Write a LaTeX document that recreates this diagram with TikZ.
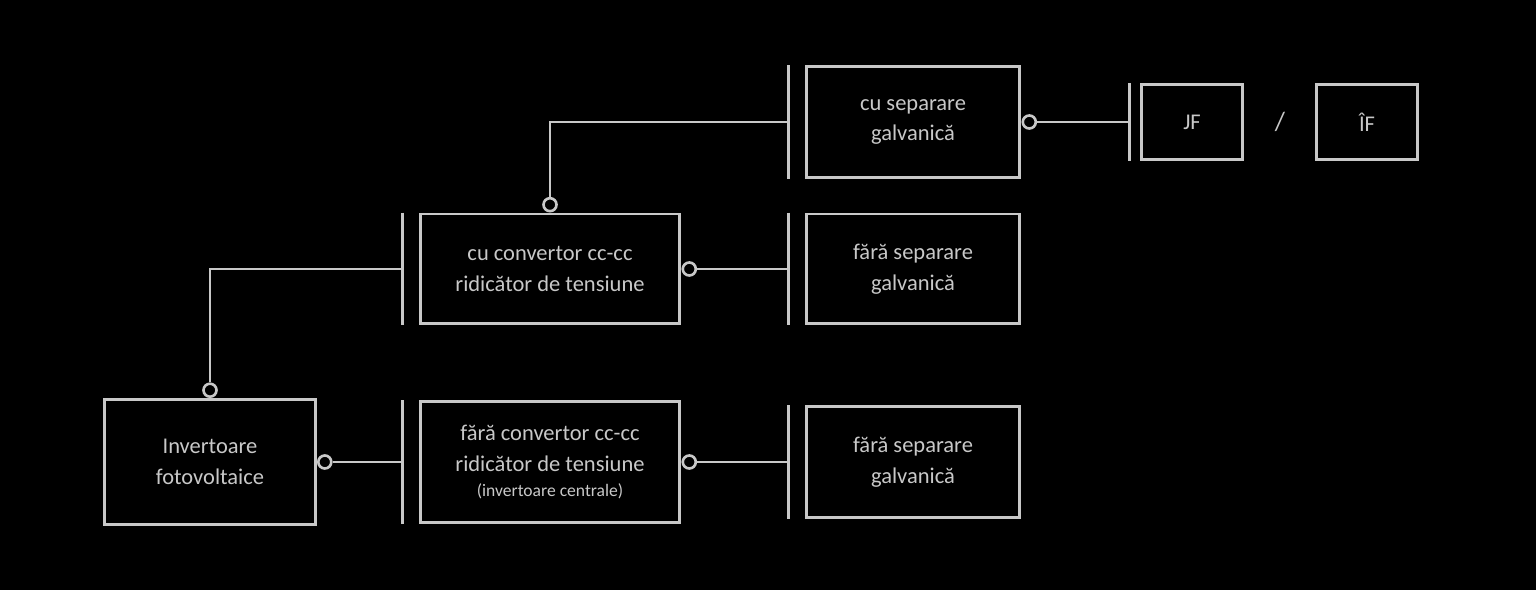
\documentclass[tikz,border=0pt]{standalone}
\usepackage{fontspec}
\setmainfont{Carlito}
\usetikzlibrary{positioning,calc}

\definecolor{linegray}{RGB}{200,200,200}

\begin{document}
\begin{tikzpicture}[x=0.02cm, y=-0.02cm,
    box/.style={draw=linegray, line width=1.7pt, align=center, text=linegray,
        font=\fontsize{12.8}{17.5}\selectfont, inner sep=0pt},
    port/.style={circle, draw=linegray, line width=1.5pt, fill=black,
        minimum size=0.26cm, inner sep=0pt},
    conn/.style={draw=linegray, line width=1.5pt},
    bar/.style={draw=linegray, line width=1.7pt}]
    % Background and margins
    \fill[black] (0,0) rectangle (1536,590);
    \useasboundingbox (0,0) rectangle (1536,590);

    % Boxes
    \node[box, minimum width=4.22cm, minimum height=2.5cm] (inv) at (210,462)
        {Invertoare\\fotovoltaice};
    \node[box, minimum width=5.2cm, minimum height=2.2cm] (cuconv) at (550,269)
        {cu convertor cc-cc\\ridicător de tensiune};
    \node[box, minimum width=5.2cm, minimum height=2.42cm] (faraconv) at (550,462)
        {fără convertor cc-cc\\ridicător de tensiune\\[-3pt]{\fontsize{10}{12}\selectfont (invertoare centrale)}};
    \node[box, minimum width=4.28cm, minimum height=2.22cm] (cusep) at (913,122)
        {cu separare\\galvanică};
    \node[box, minimum width=4.28cm, minimum height=2.2cm] (farasepA) at (913,269)
        {fără separare\\galvanică};
    \node[box, minimum width=4.28cm, minimum height=2.22cm] (farasepB) at (913,462)
        {fără separare\\galvanică};
    \node[box, minimum width=2.02cm, minimum height=1.5cm] (jf) at (1192,122) {JF};
    \node[box, minimum width=2.02cm, minimum height=1.5cm] (if) at (1367,122) {ÎF};
    \node[text=linegray, font=\fontsize{15}{17}\selectfont] (slash) at (1280,122) {/};

    % Bars in front of the boxes
    \foreach \b/\d in {cuconv/0.32cm, faraconv/0.32cm, cusep/0.32cm,
                       farasepA/0.32cm, farasepB/0.32cm, jf/0.22cm} {
        \draw[bar] ([xshift=-\d]\b.north west) -- ([xshift=-\d]\b.south west);
        \coordinate (bar-\b) at ([xshift=-\d]\b.west);
    }

    % Ports
    \node[port, anchor=south] (p-inv-up) at (inv.north) {};
    \node[port, anchor=west] (p-inv-r) at (inv.east) {};
    \node[port, anchor=south] (p-cuconv-up) at (cuconv.north) {};
    \node[port, anchor=west] (p-cuconv-r) at (cuconv.east) {};
    \node[port, anchor=west] (p-faraconv-r) at (faraconv.east) {};
    \node[port, anchor=west] (p-cusep-r) at (cusep.east) {};

    % Connectors
    \draw[conn] (p-inv-up.north) |- (bar-cuconv);
    \draw[conn] (p-inv-r.east) -- (bar-faraconv);
    \draw[conn] (p-cuconv-up.north) |- (bar-cusep);
    \draw[conn] (p-cuconv-r.east) -- (bar-farasepA);
    \draw[conn] (p-faraconv-r.east) -- (bar-farasepB);
    \draw[conn] (p-cusep-r.east) -- (bar-jf);
\end{tikzpicture}
\end{document}
